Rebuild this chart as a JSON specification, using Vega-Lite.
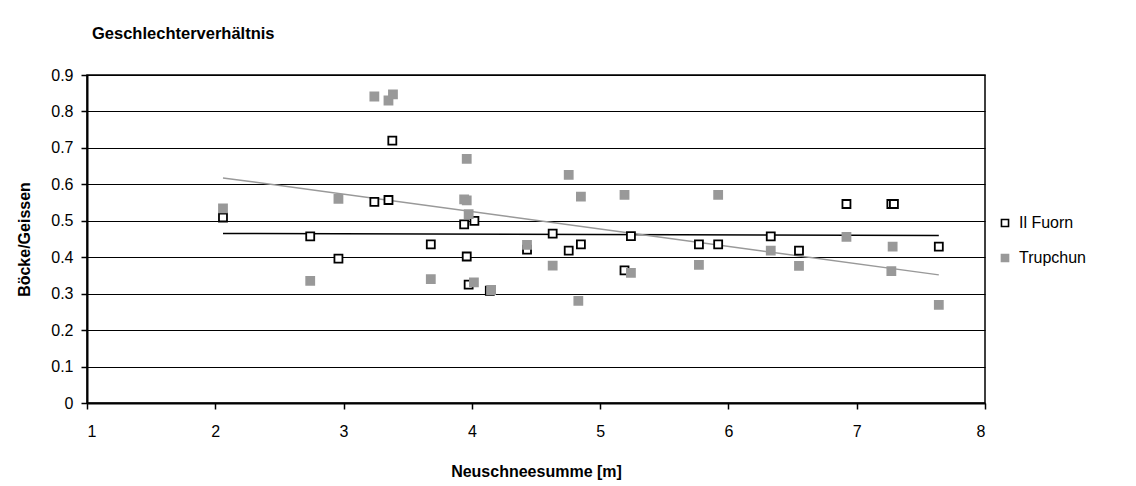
{
  "$schema": "https://vega.github.io/schema/vega-lite/v6.json",
  "autosize": {"type": "none"},
  "padding": {"left": 87, "top": 75, "right": 151, "bottom": 83},
  "width": 898,
  "height": 328,
  "background": "white",
  "config": {
    "font": "Liberation Sans",
    "view": {"stroke": "black", "strokeWidth": 1.5}
  },
  "title": {
    "text": "Geschlechterverhältnis",
    "anchor": "start",
    "frame": "group",
    "dx": 5,
    "offset": 25,
    "font": "Liberation Sans",
    "fontSize": 16.5,
    "fontWeight": "bold",
    "color": "black"
  },
  "data": {
    "values": [
      {"site": "Il Fuorn", "x": 2.06, "y": 0.509},
      {"site": "Il Fuorn", "x": 2.74, "y": 0.457},
      {"site": "Il Fuorn", "x": 2.96, "y": 0.396},
      {"site": "Il Fuorn", "x": 3.24, "y": 0.552},
      {"site": "Il Fuorn", "x": 3.35, "y": 0.557},
      {"site": "Il Fuorn", "x": 3.38, "y": 0.72},
      {"site": "Il Fuorn", "x": 3.68, "y": 0.435},
      {"site": "Il Fuorn", "x": 3.94, "y": 0.49},
      {"site": "Il Fuorn", "x": 3.96, "y": 0.402},
      {"site": "Il Fuorn", "x": 3.975, "y": 0.325},
      {"site": "Il Fuorn", "x": 4.02, "y": 0.5},
      {"site": "Il Fuorn", "x": 4.14, "y": 0.308},
      {"site": "Il Fuorn", "x": 4.43, "y": 0.421},
      {"site": "Il Fuorn", "x": 4.63, "y": 0.465},
      {"site": "Il Fuorn", "x": 4.755, "y": 0.418},
      {"site": "Il Fuorn", "x": 4.85, "y": 0.435},
      {"site": "Il Fuorn", "x": 5.19, "y": 0.364},
      {"site": "Il Fuorn", "x": 5.24, "y": 0.458},
      {"site": "Il Fuorn", "x": 5.77, "y": 0.435},
      {"site": "Il Fuorn", "x": 5.92, "y": 0.435},
      {"site": "Il Fuorn", "x": 6.33, "y": 0.457},
      {"site": "Il Fuorn", "x": 6.55, "y": 0.418},
      {"site": "Il Fuorn", "x": 6.92, "y": 0.546},
      {"site": "Il Fuorn", "x": 7.27, "y": 0.546},
      {"site": "Il Fuorn", "x": 7.29, "y": 0.546},
      {"site": "Il Fuorn", "x": 7.64, "y": 0.429},
      {"site": "Trupchun", "x": 2.06, "y": 0.534},
      {"site": "Trupchun", "x": 2.74, "y": 0.335},
      {"site": "Trupchun", "x": 2.96, "y": 0.56},
      {"site": "Trupchun", "x": 3.24, "y": 0.841},
      {"site": "Trupchun", "x": 3.35, "y": 0.83},
      {"site": "Trupchun", "x": 3.385, "y": 0.847},
      {"site": "Trupchun", "x": 3.68, "y": 0.34},
      {"site": "Trupchun", "x": 3.94, "y": 0.559},
      {"site": "Trupchun", "x": 3.96, "y": 0.556},
      {"site": "Trupchun", "x": 3.96, "y": 0.67},
      {"site": "Trupchun", "x": 3.975, "y": 0.518},
      {"site": "Trupchun", "x": 4.016, "y": 0.331},
      {"site": "Trupchun", "x": 4.15, "y": 0.31},
      {"site": "Trupchun", "x": 4.43, "y": 0.434},
      {"site": "Trupchun", "x": 4.63, "y": 0.377},
      {"site": "Trupchun", "x": 4.755, "y": 0.626},
      {"site": "Trupchun", "x": 4.83, "y": 0.28},
      {"site": "Trupchun", "x": 4.85, "y": 0.566},
      {"site": "Trupchun", "x": 5.19, "y": 0.571},
      {"site": "Trupchun", "x": 5.24, "y": 0.357},
      {"site": "Trupchun", "x": 5.77, "y": 0.379},
      {"site": "Trupchun", "x": 5.92, "y": 0.571},
      {"site": "Trupchun", "x": 6.33, "y": 0.418},
      {"site": "Trupchun", "x": 6.55, "y": 0.376},
      {"site": "Trupchun", "x": 6.92, "y": 0.456},
      {"site": "Trupchun", "x": 7.27, "y": 0.362},
      {"site": "Trupchun", "x": 7.28, "y": 0.429},
      {"site": "Trupchun", "x": 7.64, "y": 0.269}
    ]
  },
  "encoding": {
    "x": {
      "field": "x",
      "type": "quantitative",
      "scale": {"domain": [1, 8], "nice": false, "zero": false},
      "axis": {
        "title": "Neuschneesumme [m]",
        "values": [1, 2, 3, 4, 5, 6, 7, 8],
        "format": "d",
        "grid": false,
        "domainColor": "black",
        "domainWidth": 2,
        "tickColor": "black",
        "tickWidth": 1.5,
        "tickSize": 6,
        "labelFont": "Liberation Sans",
        "labelFontSize": 16,
        "labelColor": "black",
        "labelPadding": 14,
        "titleFont": "Liberation Sans",
        "titleFontSize": 16,
        "titleFontWeight": "bold",
        "titleColor": "black",
        "titlePadding": 24
      }
    },
    "y": {
      "field": "y",
      "type": "quantitative",
      "scale": {"domain": [0, 0.9], "nice": false},
      "axis": {
        "title": "Böcke/Geissen",
        "values": [0, 0.1, 0.2, 0.3, 0.4, 0.5, 0.6, 0.7, 0.8, 0.9],
        "format": ".1~f",
        "grid": true,
        "gridColor": "black",
        "gridWidth": 1.2,
        "gridOpacity": 1,
        "domainColor": "black",
        "domainWidth": 2,
        "tickColor": "black",
        "tickWidth": 1.5,
        "tickSize": 6,
        "labelFont": "Liberation Sans",
        "labelFontSize": 16,
        "labelColor": "black",
        "labelPadding": 8,
        "titleFont": "Liberation Sans",
        "titleFontSize": 16,
        "titleFontWeight": "bold",
        "titleColor": "black",
        "titlePadding": 18
      }
    }
  },
  "layer": [
    {
      "transform": [
        {"filter": "datum.site === 'Il Fuorn'"},
        {"regression": "y", "on": "x"}
      ],
      "mark": {"type": "line", "color": "black", "strokeWidth": 1.5},
      "encoding": {}
    },
    {
      "transform": [
        {"filter": "datum.site === 'Trupchun'"},
        {"regression": "y", "on": "x"}
      ],
      "mark": {"type": "line", "color": "#999999", "strokeWidth": 1.5},
      "encoding": {}
    },
    {
      "mark": {"type": "point", "shape": "square", "filled": true, "opacity": 1, "strokeWidth": 1.8},
      "encoding": {
        "size": {"value": 64},
        "fill": {
          "field": "site",
          "type": "nominal",
          "scale": {"domain": ["Il Fuorn", "Trupchun"], "range": ["white", "#999999"]},
          "legend": {
            "title": null,
            "orient": "none",
            "legendX": 910,
            "legendY": 140,
            "labelFont": "Liberation Sans",
            "labelFontSize": 16,
            "labelColor": "black",
            "labelOffset": 6,
            "rowPadding": 19,
            "symbolStrokeWidth": 1.6,
            "symbolSize": 50
          }
        },
        "stroke": {
          "field": "site",
          "type": "nominal",
          "scale": {"domain": ["Il Fuorn", "Trupchun"], "range": ["black", "#999999"]},
          "legend": {
            "title": null,
            "orient": "none",
            "legendX": 910,
            "legendY": 140,
            "labelFont": "Liberation Sans",
            "labelFontSize": 16,
            "labelColor": "black",
            "labelOffset": 6,
            "rowPadding": 19,
            "symbolStrokeWidth": 1.6,
            "symbolSize": 50
          }
        }
      }
    }
  ]
}
